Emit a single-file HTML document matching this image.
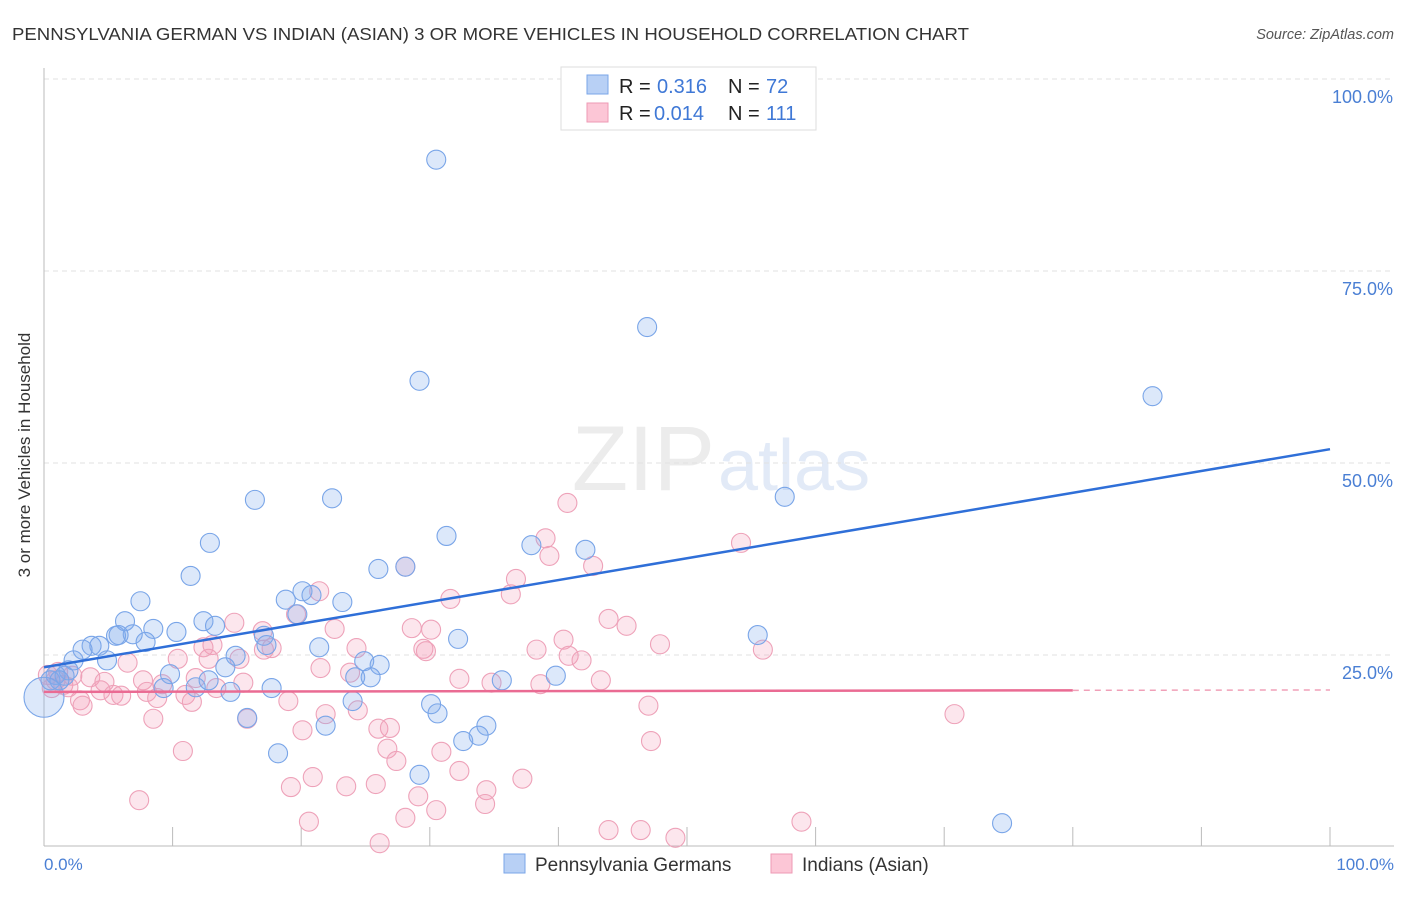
<!DOCTYPE html>
<html><head><meta charset="utf-8"><style>
body{margin:0;background:#fff;font-family:"Liberation Sans",sans-serif;}
svg text{font-family:"Liberation Sans",sans-serif;}
</style></head><body>
<svg width="1406" height="892">
<text x="12" y="40" font-size="17.5" fill="#333" textLength="957" lengthAdjust="spacingAndGlyphs">PENNSYLVANIA GERMAN VS INDIAN (ASIAN) 3 OR MORE VEHICLES IN HOUSEHOLD CORRELATION CHART</text>
<text x="1394" y="39" font-size="14.5" fill="#555" font-style="italic" text-anchor="end">Source: ZipAtlas.com</text>
<text x="715" y="490" font-size="92" fill="#ececec" text-anchor="end" font-family="Liberation Serif">ZIP</text>
<text x="718" y="490" font-size="72" fill="#e2eaf7">atlas</text>
<g id="grid"></g>
<g id="axes"></g>
<g id="pts"></g>
<g id="trend"></g>
<text x="30" y="455" font-size="17" fill="#333" text-anchor="middle" transform="rotate(-90 30 455)">3 or more Vehicles in Household</text>
<text x="44" y="870" font-size="17" fill="#4a7fd4">0.0%</text>
<text x="1394" y="870" font-size="17" fill="#4a7fd4" text-anchor="end">100.0%</text>
<g>
<rect x="561" y="67" width="255" height="63" fill="#fff" stroke="#ddd"/>
<rect x="587" y="75" width="21" height="19" fill="#b8d0f5" stroke="#7aa6e8"/>
<rect x="587" y="103" width="21" height="19" fill="#fcc6d6" stroke="#ee9ab4"/>
<text x="619" y="93" font-size="20" fill="#222">R =</text>
<text x="657" y="93" font-size="20" fill="#3f78d6">0.316</text>
<text x="728" y="93" font-size="20" fill="#222">N =</text>
<text x="766" y="93" font-size="20" fill="#3f78d6">72</text>
<text x="619" y="120" font-size="20" fill="#222">R =</text>
<text x="654" y="120" font-size="20" fill="#3f78d6">0.014</text>
<text x="728" y="120" font-size="20" fill="#222">N =</text>
<text x="766" y="120" font-size="20" fill="#3f78d6">111</text>
</g>
<g>
<rect x="504" y="854" width="21" height="19" fill="#b8d0f5" stroke="#7aa6e8"/>
<text x="535" y="871" font-size="19" fill="#333">Pennsylvania Germans</text>
<rect x="771" y="854" width="21" height="19" fill="#fcc6d6" stroke="#ee9ab4"/>
<text x="802" y="871" font-size="19" fill="#333">Indians (Asian)</text>
</g>
</svg>
<script>
const blueX=[49.9,30.5,46.9,29.2,86.2,16.4,22.4,57.6,12.9,31.3,37.9,42.1,26.0,11.4,7.5,18.8,20.1,20.8,23.2,19.7,6.3,12.4,13.3,8.5,10.3,6.9,5.6,5.8,3.7,4.3,3.0,7.9,17.1,32.2,21.4,55.5,2.3,4.9,14.9,24.9,26.1,14.1,1.9,0.9,9.8,24.2,25.4,0.5,39.8,35.6,9.3,11.8,17.7,14.5,24.0,30.1,30.6,15.8,21.9,34.4,33.8,32.6,18.2,29.2,74.5,1.6,1.2,17.3,28.1,12.8];
const blueY=[100,89.5,67.7,60.7,58.7,45.2,45.4,45.6,39.6,40.5,39.3,38.7,36.2,35.3,32.0,32.2,33.3,32.8,31.9,30.3,29.4,29.4,28.8,28.4,28.0,27.7,27.5,27.6,26.2,26.2,25.7,26.7,27.5,27.1,26.0,27.6,24.3,24.3,24.9,24.2,23.7,23.4,23.0,22.4,22.5,22.1,22.1,21.7,22.3,21.7,20.7,20.8,20.7,20.2,19.0,18.6,17.4,16.8,15.8,15.8,14.5,13.8,12.2,9.4,3.1,22.3,21.7,26.3,36.5,21.7];
const pinkX=[40.7,39.0,54.2,39.3,42.7,36.7,28.1,21.4,31.6,36.3,19.6,43.9,45.3,14.8,17.0,22.6,28.6,30.1,24.3,40.4,47.9,12.4,13.1,17.1,17.7,29.5,29.7,38.3,55.9,10.4,6.5,12.8,15.2,40.8,41.8,21.5,23.8,0.3,1.1,2.2,3.6,4.7,7.7,11.8,32.3,34.8,38.6,43.3,9.2,13.4,15.5,1.5,1.9,4.4,5.4,6.0,8.0,8.8,11.0,11.5,19.0,2.8,3.0,0.6,24.4,15.8,8.5,20.1,21.9,26.0,26.9,30.9,26.7,10.8,47.0,70.8,47.2,27.4,32.3,37.2,20.9,23.5,25.8,19.2,34.4,29.1,7.4,34.3,30.5,28.1,20.6,58.9,43.9,46.4,26.1,49.1,0.9];
const pinkY=[44.8,40.2,39.6,37.9,36.6,34.9,36.5,33.3,32.3,32.9,30.3,29.7,28.8,29.2,28.1,28.4,28.5,28.3,25.9,27.0,26.4,26.0,26.3,25.7,25.9,25.8,25.5,25.7,25.7,24.5,24.0,24.5,24.5,24.9,24.3,23.3,22.7,22.4,22.8,22.3,22.1,21.5,21.7,22.0,21.9,21.4,21.2,21.7,21.2,20.7,21.4,21.1,20.8,20.4,19.8,19.7,20.2,19.4,19.8,18.9,19.0,19.1,18.4,20.7,17.8,16.7,16.7,15.2,17.3,15.4,15.5,12.4,12.8,12.5,18.4,17.3,13.8,11.2,9.9,8.9,9.1,7.9,8.2,7.8,7.4,6.6,6.1,5.6,4.8,3.8,3.3,3.3,2.2,2.2,0.5,1.2,21.7];
const bigBlue=[0,19.5];
const blueTrend=[23.4,51.8];
const pinkTrend=[20.2,20.4];
const yTicks=[25,50,75,100];
const X0=44,X1=1330,Y0=847,Y1=79;
const sx=v=>X0+(X1-X0)*v/100, sy=v=>Y0-(Y0-Y1)*v/100;
const NS='http://www.w3.org/2000/svg';
function mk(tag,parent,attrs){const e=document.createElementNS(NS,tag);for(const k in attrs)e.setAttribute(k,attrs[k]);parent.appendChild(e);return e;}
const grid=document.getElementById('grid'),axes=document.getElementById('axes'),pts=document.getElementById('pts'),tr=document.getElementById('trend');
yTicks.forEach(t=>{
  const l=mk('line',grid,{x1:X0,x2:1394,y1:sy(t),y2:sy(t),stroke:'#e2e2e2','stroke-dasharray':'5,4'});
  
  
  const tx=mk('text',grid,{x:1393,y:sy(t)+24,'font-size':18,fill:'#4a7fd4','text-anchor':'end'});
  tx.textContent=t.toFixed(1)+'%';
  
  
});
const ya=mk('line',axes,{x1:X0,x2:X0,y1:68,y2:846,stroke:'#bbb'});


const xa=mk('line',axes,{x1:X0,x2:1394,y1:846,y2:846,stroke:'#bbb'});


for(let i=0;i<=10;i++){const tk=mk('line',axes,{x1:sx(i*10),x2:sx(i*10),y1:827,y2:846,stroke:'#bbb'});

}
function dot(x,y,r,c,name){const e=mk('circle',pts,{cx:sx(x),cy:sy(y),r:r,fill:c[0],stroke:c[1],'stroke-width':1.1});

}
const BC=['rgba(130,172,238,0.28)','#79a5e8'],PC=['rgba(245,155,185,0.25)','#eea2b9'];
pinkX.forEach((x,i)=>dot(x,pinkY[i],9.5,PC,'indian-point'));
blueX.forEach((x,i)=>dot(x,blueY[i],9.5,BC,'pa-german-point'));
dot(bigBlue[0],bigBlue[1],20,BC,'pa-german-large-point');
const bl=mk('line',tr,{x1:sx(0),y1:sy(blueTrend[0]),x2:sx(100),y2:sy(blueTrend[1]),stroke:'#2f6fd8','stroke-width':2.5});


const pl=mk('line',tr,{x1:sx(0),y1:sy(pinkTrend[0]),x2:sx(80),y2:sy(pinkTrend[1]),stroke:'#ea6b93','stroke-width':2.5});


const pd=mk('line',tr,{x1:sx(80),y1:sy(pinkTrend[1]),x2:sx(100),y2:sy(pinkTrend[1]+0.05),stroke:'#f0a0b8','stroke-width':1.5,'stroke-dasharray':'6,5'});


</script>
</body></html>
